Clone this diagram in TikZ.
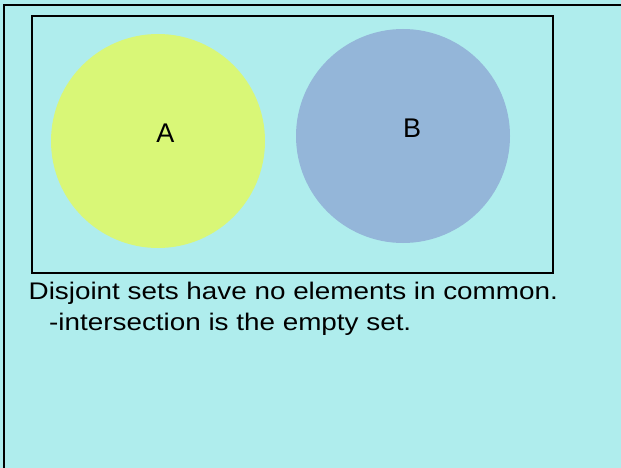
\documentclass[tikz,border=0pt]{standalone}
\usepackage{fontspec}
\usepackage{graphicx}
\setmainfont{Liberation Sans}
\definecolor{fondo}{RGB}{175,237,237}
\definecolor{verdeA}{RGB}{217,247,119}
\definecolor{azulB}{RGB}{148,182,217}
\usetikzlibrary{positioning}
\newcommand{\ancho}[1]{\scalebox{1.16}[1]{#1}}

\begin{document}
\begin{tikzpicture}[
    x=1pt, y=-1pt,
    conjunto/.style={
        circle,
        inner sep=0pt,
        minimum size=214pt
    },
    etiqueta/.style={
        inner sep=0pt,
        font=\fontsize{27}{32}\selectfont
    },
    linea/.style={
        anchor=base west,
        inner sep=0pt,
        font=\fontsize{24}{28}\selectfont
    }
]
\useasboundingbox (0,0) rectangle (621,468);
\fill[fondo] (0,0) rectangle (621,468);

% MARCO
\coordinate (esqinf) at (4,468);
\coordinate (esqsup) at (4,5);
\coordinate (esqder) at (621,5);
\draw[line width=2.5pt] (esqinf) -- (esqsup) -- (esqder);

% UNIVERSO
\node[draw, line width=2pt, minimum width=521pt, minimum height=256pt,
      inner sep=0pt, anchor=north west] (universo) at (31,15.5) {};

% CONJUNTOS
\node[conjunto, fill=verdeA] (A) at (158,141) {};
\node[conjunto, fill=azulB] (B) at (403,136) {};
\node[etiqueta] (etiqA) at (165.5,133.5) {A};
\node[etiqueta] (etiqB) at (412,128) {B};

% TEXTO
\node[linea] (linea1) at (28.5,299.5) {\ancho{Disjoint sets have no elements in common.}};
\node[linea] (linea2) at (49,330) {\ancho{-intersection is the empty set.}};

\end{tikzpicture}
\end{document}
